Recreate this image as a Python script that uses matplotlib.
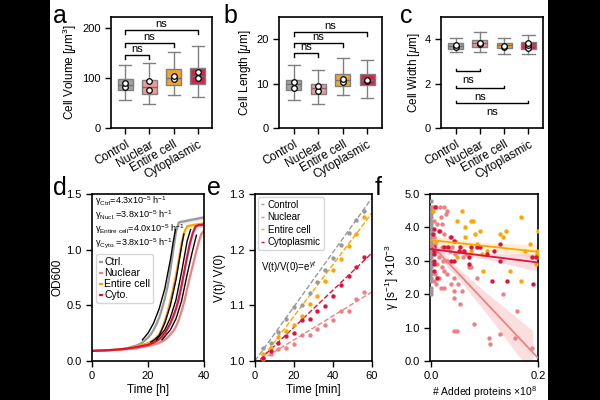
import matplotlib
matplotlib.use("Agg")
import matplotlib.pyplot as plt
from matplotlib.patches import Rectangle

plt.rcParams['font.family'] = ['Liberation Sans', 'DejaVu Sans']
plt.rcParams['mathtext.fontset'] = 'custom'
plt.rcParams['mathtext.rm'] = 'Liberation Sans'
plt.rcParams['mathtext.it'] = 'Liberation Sans:italic'
plt.rcParams['axes.linewidth'] = 1.2
plt.rcParams['xtick.major.width'] = 1.0
plt.rcParams['ytick.major.width'] = 1.0
plt.rcParams['xtick.major.size'] = 4
plt.rcParams['ytick.major.size'] = 4

# ---- data ----
groups = ['Control', 'Nuclear', 'Entire cell', 'Cytoplasmic']
colors = ['#a3a3a3', '#f29a9a', '#f2a52b', '#d4254a']
line_colors = ['#9a9a9a', '#f08080', '#ffa500', '#dc143c']

# box stats: whislo, q1, med, q3, whishi
vol_stats = [[57, 77, 87, 99, 127], [48, 69, 82, 96, 131],
             [66, 87, 101, 118, 153], [63, 89, 104, 121, 165]]
vol_pts = [[83, 91], [77, 95], [99, 104], [100, 112]]
len_stats = [[6.4, 8.5, 9.8, 10.8, 14.2], [5.3, 7.7, 9.1, 10.0, 13.1],
             [7.5, 9.4, 10.8, 12.2, 15.7], [6.8, 9.7, 10.9, 12.2, 15.3]]
len_pts = [[9.1, 10.3], [8.4, 9.5], [10.3, 11.1], [10.6, 10.9]]
wid_stats = [[3.41, 3.58, 3.70, 3.82, 4.05], [3.41, 3.64, 3.82, 3.97, 4.32],
             [3.34, 3.59, 3.74, 3.85, 4.05], [3.34, 3.56, 3.74, 3.88, 4.17]]
wid_pts = [[3.67, 3.73], [3.79, 3.85], [3.67, 3.71], [3.61, 3.73, 3.85]]

# growth curves (OD600)
t_od = [0, 4, 8, 12, 16, 18, 20, 21, 22, 23, 24, 25, 26, 27, 28, 29, 30,
        31, 32, 33, 34, 35, 36, 37, 38, 39, 40]
od_ctrl = [0.09, 0.095, 0.10, 0.11, 0.14, 0.165, 0.21, 0.24, 0.28, 0.33, 0.39, 0.47, 0.56, 0.67,
           0.82, 0.99, 1.16, 1.245, 1.25, 1.255, 1.26, 1.265, 1.27, 1.275, 1.28, 1.285, 1.29]
od_nuc = [0.09, 0.095, 0.10, 0.105, 0.115, 0.125, 0.135, 0.14, 0.148, 0.155, 0.165, 0.175, 0.19,
          0.21, 0.24, 0.27, 0.31, 0.37, 0.45, 0.54, 0.65, 0.76, 0.86, 0.96, 1.06, 1.14, 1.17]
od_ent = [0.09, 0.095, 0.10, 0.11, 0.13, 0.145, 0.16, 0.175, 0.19, 0.21, 0.24, 0.29, 0.36, 0.44,
          0.54, 0.65, 0.77, 0.91, 1.06, 1.16, 1.21, 1.215, 1.22, 1.225, 1.228, 1.232, 1.235]
od_cyto = [0.09, 0.095, 0.10, 0.11, 0.125, 0.135, 0.145, 0.155, 0.165, 0.18, 0.195, 0.22, 0.25,
           0.29, 0.34, 0.40, 0.47, 0.56, 0.68, 0.81, 0.94, 1.06, 1.15, 1.21, 1.22, 1.222, 1.225]
od_sd = [0.004, 0.004, 0.004, 0.004, 0.005, 0.005, 0.006, 0.006, 0.007, 0.007, 0.008, 0.008, 0.01,
         0.01, 0.012, 0.013, 0.015, 0.018, 0.02, 0.022, 0.022, 0.022, 0.022, 0.022, 0.022, 0.022, 0.022]
# black exponential fits
fit_ctrl_t = [18, 20, 22, 24, 26, 28, 29, 29.8]
fit_ctrl_y = [0.19, 0.25, 0.34, 0.47, 0.65, 0.91, 1.07, 1.18]
fit_ent_t = [21, 22, 24, 26, 28, 30, 31, 32, 32.8]
fit_ent_y = [0.17, 0.185, 0.23, 0.34, 0.50, 0.73, 0.88, 1.03, 1.14]
fit_cyto_t = [23, 24, 26, 28, 30, 32, 34, 35.2]
fit_cyto_y = [0.19, 0.22, 0.28, 0.39, 0.55, 0.80, 1.08, 1.18]
fit_nuc_t = [25, 26, 28, 30, 32, 34, 36, 37.3]
fit_nuc_y = [0.19, 0.22, 0.28, 0.38, 0.54, 0.78, 1.0, 1.13]
rates = ['4.3', '3.8', '4.0', '3.8']
rate_subs = ['Ctrl', 'Nucl.', 'Entire\\ cell', 'Cyto.']
od_labels = ['Ctrl.', 'Nuclear', 'Entire cell', 'Cyto.']

# single-cell volume growth
t_min = [4, 8, 12, 16, 20, 24, 28, 32, 36, 40, 44, 48, 52, 56]
v_ctrl = [1.024, 1.033, 1.052, 1.076, 1.097, 1.101, 1.123, 1.142, 1.164, 1.185, 1.209, 1.230, 1.253, 1.270]
v_nuc = [1.004, 1.012, 1.021, 1.024, 1.031, 1.046, 1.046, 1.057, 1.064, 1.074, 1.090, 1.089, 1.111, 1.124]
v_ent = [1.012, 1.024, 1.044, 1.053, 1.065, 1.080, 1.102, 1.117, 1.144, 1.164, 1.183, 1.207, 1.229, 1.259]
v_cyto = [1.006, 1.018, 1.032, 1.045, 1.050, 1.074, 1.075, 1.090, 1.098, 1.117, 1.137, 1.153, 1.169, 1.187]
fit_t = [0, 60]
vfit_ctrl = [1.0, 1.293]
vfit_nuc = [0.995, 1.124]
vfit_ent = [0.988, 1.266]
vfit_cyto = [0.994, 1.194]

# growth rate vs added proteins
ctrl_gamma = [4.8, 4.6, 4.5, 4.4, 4.3, 4.2, 4.1, 4.0, 3.9, 3.8, 3.7, 3.6, 3.5, 3.4, 3.3,
              3.2, 3.1, 3.0, 2.9, 2.8, 2.7, 2.6, 2.5, 2.4, 2.2, 2.1, 2.0]
nuc_x = [0.003, 0.01, 0.017, 0.025, 0.03, 0.028, 0.018, 0.012, 0.02, 0.005, 0.016, 0.005, 0.025,
         0.008, 0.02, 0.03, 0.035, 0.04, 0.045, 0.055, 0.06, 0.065, 0.01, 0.015, 0.022, 0.03,
         0.012, 0.02, 0.025, 0.008, 0.015, 0.005, 0.01, 0.018, 0.025, 0.037, 0.043, 0.043, 0.043,
         0.058, 0.055, 0.043, 0.048, 0.081, 0.086, 0.071, 0.075, 0.108, 0.111, 0.129, 0.135,
         0.16, 0.157, 0.188, 0.045, 0.035, 0.06, 0.05, 0.03]
nuc_y = [4.6, 4.6, 4.6, 4.6, 4.5, 4.4, 4.3, 4.1, 4.1, 4.2, 3.9, 3.7, 3.8, 3.5, 3.4, 3.4, 3.3,
         3.4, 3.2, 3.3, 3.3, 3.2, 3.3, 3.1, 3.0, 3.0, 2.9, 2.8, 2.7, 2.6, 2.5, 2.4, 2.3, 2.2,
         2.2, 2.3, 1.9, 2.1, 2.5, 2.1, 1.7, 0.9, 0.9, 1.1, 2.5, 2.8, 2.8, 0.7, 0.5, 0.8, 2.0,
         1.5, 0.7, 0.4, 3.6, 3.7, 3.1, 2.3, 2.6]
ent_x = [0.003, 0.049, 0.058, 0.063, 0.074, 0.079, 0.092, 0.083, 0.063, 0.095, 0.169, 0.129,
         0.14, 0.134, 0.2, 0.185, 0.175, 0.074, 0.086, 0.105, 0.098, 0.148, 0.169, 0.199, 0.199,
         0.199, 0.197, 0.049, 0.01]
ent_y = [4.5, 4.2, 4.5, 4.0, 4.2, 4.2, 3.9, 3.8, 3.7, 3.2, 4.3, 3.8, 3.9, 3.7, 3.9, 3.5, 3.3,
         3.3, 3.5, 3.3, 2.7, 2.7, 2.4, 3.3, 3.2, 3.1, 2.9, 3.1, 3.6]
cyto_x = [0.008, 0.003, 0.006, 0.005, 0.005, 0.006, 0.005, 0.005, 0.005, 0.015, 0.012, 0.037,
          0.043, 0.052, 0.037, 0.043, 0.074, 0.086, 0.092, 0.071, 0.105, 0.129, 0.117, 0.129,
          0.114, 0.142, 0.191, 0.188, 0.197, 0.071, 0.025, 0.031, 0.055, 0.062]
cyto_y = [4.6, 3.8, 3.95, 3.4, 3.3, 3.2, 3.0, 2.9, 2.7, 3.9, 2.5, 3.7, 3.6, 3.3, 3.0, 3.0, 3.4,
          3.4, 3.4, 3.1, 3.2, 3.5, 3.3, 3.0, 2.4, 2.4, 2.3, 3.1, 3.1, 2.9, 3.4, 3.4, 3.4, 3.3]
reg_x = [0.0, 0.2]
reg_nuc = [3.49, 0.09]
reg_ent = [3.62, 3.27]
reg_cyto = [3.35, 2.95]
band_x = [0.0, 0.05, 0.1, 0.15, 0.19]
band_nuc_lo = [3.34, 2.49, 1.49, 0.44, -0.4]
band_nuc_hi = [3.64, 2.79, 2.09, 1.44, 0.91]
band_x2 = [0.0, 0.1, 0.2]
band_ent_lo = [3.52, 3.34, 3.08]
band_ent_hi = [3.74, 3.54, 3.48]
band_cyto_lo = [3.27, 3.06, 2.68]
band_cyto_hi = [3.43, 3.22, 3.2]

fs_tick = 8
fs_lab = 8.5

fig = plt.figure(figsize=(6, 4), dpi=100)
fig.patch.set_facecolor('black')
fig.add_artist(Rectangle((50 / 600, 0), 498 / 600, 1, transform=fig.transFigure,
                         facecolor='white', edgecolor='none', zorder=0))


def px_axes(x0, y0, x1, y1):
    return fig.add_axes([x0 / 600, 1 - y1 / 400, (x1 - x0) / 600, (y1 - y0) / 400])


def box_panel(ax, stats, pts, ylim, yticks, ylabel):
    bstats = []
    for s in stats:
        bstats.append(dict(whislo=s[0], q1=s[1], med=s[2], q3=s[3], whishi=s[4], fliers=[]))
    pos = list(range(len(groups)))
    bp = ax.bxp(bstats, positions=pos, widths=0.62, patch_artist=True, showfliers=False,
                boxprops=dict(edgecolor='#808080', linewidth=1.0),
                medianprops=dict(color='#707070', linewidth=1.0),
                whiskerprops=dict(color='#808080', linewidth=1.0),
                capprops=dict(color='#808080', linewidth=1.0), capwidths=0.5)
    for patch, c in zip(bp['boxes'], colors):
        patch.set_facecolor(c)
    for i, p in enumerate(pts):
        ax.plot([i] * len(p), p, 'o', mfc='white', mec='black', ms=4, mew=0.9, zorder=5)
    ax.set_xlim(-0.6, 3.6)
    ax.set_ylim(*ylim)
    ax.set_yticks(yticks)
    ax.set_xticks(pos)
    ax.set_xticklabels(groups, rotation=30, ha='right', rotation_mode='anchor', fontsize=fs_lab)
    ax.tick_params(labelsize=fs_tick)
    ax.tick_params(axis='x', labelsize=fs_lab)
    ax.set_ylabel(ylabel, fontsize=fs_lab, labelpad=2)


def bracket(ax, x0, x1, y, h, text_y, va):
    ax.plot([x0, x0, x1, x1], [y - h, y, y, y - h], color='black', lw=1.0)
    ax.text((x0 + x1) / 2, text_y, 'ns', ha='center', va=va, fontsize=fs_tick)


# a
ax = px_axes(111, 17, 212, 128)
box_panel(ax, vol_stats, vol_pts, (0, 222), [0, 100, 200], 'Cell Volume [$\\mu$m$^3$]')
for j, yb in zip([1, 2, 3], [147, 171, 196]):
    bracket(ax, 0, j, yb, 8, yb + 2, 'bottom')

# b
ax = px_axes(279, 17, 382, 128)
box_panel(ax, len_stats, len_pts, (0, 25), [0, 10, 20], 'Cell Length [$\\mu$m]')
for j, yb in zip([1, 2, 3], [16.9, 19.1, 21.6]):
    bracket(ax, 0, j, yb, 0.9, yb + 0.2, 'bottom')

# c
ax = px_axes(441, 17, 543, 128)
box_panel(ax, wid_stats, wid_pts, (0, 5), [0, 2, 4], 'Cell Width [$\\mu$m]')
for j, yb in zip([1, 2, 3], [2.58, 1.81, 1.13]):
    bracket(ax, 0, j, yb, -0.1, yb - 0.2, 'top')

# d
ax = px_axes(92, 194, 204, 361)
od_series = [od_ctrl, od_nuc, od_ent, od_cyto]
for ys, c, lab in zip(od_series, line_colors, od_labels):
    lo = [y - s for y, s in zip(ys, od_sd)]
    hi = [y + s for y, s in zip(ys, od_sd)]
    ax.fill_between(t_od, lo, hi, color=c, alpha=0.2, lw=0)
    ax.plot(t_od, ys, color=c, lw=1.6, label=lab)
for ft, fy in [(fit_ctrl_t, fit_ctrl_y), (fit_ent_t, fit_ent_y),
               (fit_cyto_t, fit_cyto_y), (fit_nuc_t, fit_nuc_y)]:
    ax.plot(ft, fy, color='black', lw=1.0, zorder=4)
ax.set_xlim(0, 40)
ax.set_ylim(0, 1.5)
ax.set_xticks([0, 20, 40])
ax.set_yticks([0.0, 0.5, 1.0, 1.5])
ax.tick_params(labelsize=fs_tick)
ax.set_xlabel('Time [h]', fontsize=fs_lab, labelpad=2)
ax.set_ylabel('OD600', fontsize=fs_lab, labelpad=2)
for yy, r, sub in zip([0.955, 0.875, 0.79, 0.705], rates, rate_subs):
    ax.text(0.03, yy, 'γ$_{\\rm ' + sub + '}$=' + r + 'x10$^{-5}$ h$^{-1}$',
            transform=ax.transAxes, fontsize=6.6, va='center')
ax.legend(loc='upper left', bbox_to_anchor=(0.04, 0.64), fontsize=7.5, handlelength=0.2,
          handletextpad=0.25, borderpad=0.3, labelspacing=0.1, borderaxespad=0)

# e
ax = px_axes(255, 194, 372, 361)
v_series = [v_ctrl, v_nuc, v_ent, v_cyto]
v_fits = [vfit_ctrl, vfit_nuc, vfit_ent, vfit_cyto]
for ys, fy, c, lab in zip(v_series, v_fits, line_colors, groups):
    ax.plot(fit_t, fy, '--', color=c, lw=1.0, label=lab)
    ax.scatter(t_min, ys, s=10, color=c, lw=0, zorder=3)
ax.set_xlim(0, 60)
ax.set_ylim(1.0, 1.3)
ax.set_xticks([0, 20, 40, 60])
ax.set_yticks([1.0, 1.1, 1.2, 1.3])
ax.tick_params(labelsize=fs_tick)
ax.set_xlabel('Time [min]', fontsize=fs_lab, labelpad=2)
ax.set_ylabel('V(t)/ V(0)', fontsize=fs_lab, labelpad=2)
ax.legend(loc='upper left', fontsize=7, handlelength=0.3, handletextpad=0.4, borderpad=0.3,
          labelspacing=0.25, borderaxespad=0.3)
ax.text(0.05, 0.56, 'V(t)/V(0)=e$^{\\gamma t}$', transform=ax.transAxes, fontsize=7, va='center')

# f
ax = px_axes(430, 194, 538, 361)
ax.fill_between(band_x, band_nuc_lo, band_nuc_hi, color='#f08080', alpha=0.25, lw=0)
ax.fill_between(band_x2, band_ent_lo, band_ent_hi, color='#ffa500', alpha=0.18, lw=0)
ax.fill_between(band_x2, band_cyto_lo, band_cyto_hi, color='#dc143c', alpha=0.15, lw=0)
ax.scatter([0.0] * len(ctrl_gamma), ctrl_gamma, s=10, color=line_colors[0], lw=0, zorder=3)
ax.scatter(nuc_x, nuc_y, s=10, color=line_colors[1], lw=0, zorder=3)
ax.scatter(ent_x, ent_y, s=10, color=line_colors[2], lw=0, zorder=3)
ax.scatter(cyto_x, cyto_y, s=10, color=line_colors[3], lw=0, zorder=3)
ax.plot(reg_x, reg_nuc, color=line_colors[1], lw=1.3, zorder=4)
ax.plot(reg_x, reg_ent, color=line_colors[2], lw=1.3, zorder=4)
ax.plot(reg_x, reg_cyto, color=line_colors[3], lw=1.3, zorder=4)
ax.set_xlim(-0.002, 0.2)
ax.set_ylim(0, 5)
ax.set_xticks([0.0, 0.2])
ax.set_xticklabels(['0.0', '0.2'])
ax.set_yticks([0, 1, 2, 3, 4, 5])
ax.set_yticklabels(['0.0', '1.0', '2.0', '3.0', '4.0', '5.0'])
ax.tick_params(labelsize=fs_tick)
ax.set_xlabel('# Added proteins ×10$^8$', fontsize=7.5, labelpad=2)
ax.set_ylabel('γ [s$^{-1}$] ×10$^{-3}$', fontsize=fs_lab, labelpad=2)

# panel letters
for lx, ly, letter in [(53, 23, 'a'), (223, 23, 'b'), (400, 23, 'c'),
                       (53, 195, 'd'), (207, 195, 'e'), (375, 195, 'f')]:
    fig.text(lx / 600, 1 - ly / 400, letter, fontsize=18, va='baseline', ha='left')

fig.savefig('out.png', dpi=100, facecolor=fig.get_facecolor())
